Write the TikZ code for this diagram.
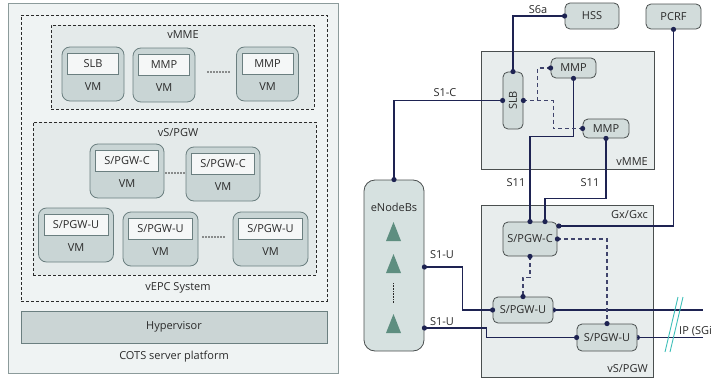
\documentclass[tikz,border=0pt]{standalone}
\usepackage{fontspec}
\setmainfont{Open Sans}
\usetikzlibrary{calc}
\definecolor{panelfill}{HTML}{EFF3F3}
\definecolor{panelline}{HTML}{8C9B9B}
\definecolor{groupfill}{HTML}{E4EAEA}
\definecolor{vmfill}{HTML}{C9D5D5}
\definecolor{vmline}{HTML}{6B7F80}
\definecolor{innerfill}{HTML}{F5F7F7}
\definecolor{hyperfill}{HTML}{CBD5D5}
\definecolor{boxfill}{HTML}{E8EDED}
\definecolor{boxline}{HTML}{4A4F4F}
\definecolor{nodefill}{HTML}{D2DCDB}
\definecolor{enbfill}{HTML}{D6E1E0}
\definecolor{navy}{HTML}{1E2352}
\definecolor{trifill}{HTML}{5E8E80}
\definecolor{slashc}{HTML}{3DBFB8}
\definecolor{txt}{HTML}{2A2A2A}
\newcommand\vmunit[5]{%
  \node[vmbox, minimum width=#5] (#1) at (#2,#3+27) {};
  \node[vminner, minimum width=#5-11] (#1i) at (#2,#3+16.5) {#4};
  \node[lbl] (#1t) at (#2,#3+40) {VM};}
\begin{document}
\begin{tikzpicture}[x=1pt,y=-1pt,
  lbl/.style={text=txt, font=\fontsize{11}{13}\selectfont, inner sep=0pt},
  vmbox/.style={draw=vmline, fill=vmfill, rounded corners=8pt, minimum height=54pt, line width=0.8pt},
  vminner/.style={draw=vmline, fill=innerfill, minimum height=21pt, line width=0.8pt, text=txt, font=\fontsize{11}{13}\selectfont, inner sep=0pt},
  group/.style={draw=txt, dash pattern=on 3pt off 2pt, line width=0.6pt},
  vmdots/.style={line width=1.6pt, line cap=round, dash pattern=on 0pt off 3pt, draw=txt},
  nbox/.style={draw=boxline, fill=nodefill, rounded corners=5pt, line width=0.8pt, text=txt, font=\fontsize{11}{13}\selectfont, inner sep=0pt},
  area/.style={draw=boxline, fill=boxfill, line width=0.9pt, inner sep=0pt},
  link/.style={draw=navy, line width=1.1pt},
  dlink/.style={draw=navy!85!white, line width=1.1pt, dash pattern=on 4pt off 3pt},
  dot/.style={fill=navy}
]
\useasboundingbox (0,0) rectangle (711,380);
% ---------------- left panel ----------------
\node[draw=panelline, fill=panelfill, line width=0.8pt, minimum width=330pt, minimum height=370pt, inner sep=0pt] (cots) at (173,188) {};
\node[group, minimum width=306pt, minimum height=286pt, inner sep=0pt] (vepc) at (174,158) {};
\node[group, fill=groupfill, minimum width=263pt, minimum height=84pt, inner sep=0pt] (gmme) at (182.5,67) {};
\node[group, fill=groupfill, minimum width=283pt, minimum height=153pt, inner sep=0pt] (gspgw) at (174.5,198.5) {};
\node[lbl] (lmme) at (183,35) {vMME};
\node[lbl] (lspgw) at (178,133) {vS/PGW};
\node[lbl] (lvepc) at (178,288) {vEPC System};
\vmunit{vma}{93}{47}{SLB}{62}
\vmunit{vmb}{164}{48}{MMP}{62}
\vmunit{vmc}{267.5}{47}{MMP}{62}
\vmunit{vmd}{127}{144}{S/PGW-C}{74}
\vmunit{vme}{223}{147}{S/PGW-C}{74}
\vmunit{vmf}{76}{208}{S/PGW-U}{75}
\vmunit{vmg}{160.5}{212}{S/PGW-U}{75}
\vmunit{vmh}{270.5}{212}{S/PGW-U}{75}
\draw[vmdots] (208,72) -- (230,72);
\draw[vmdots] (166,173) -- (185,173);
\draw[vmdots] (203,237) -- (226,237);
\node[draw=vmline, fill=hyperfill, line width=0.8pt, minimum width=306pt, minimum height=32pt, inner sep=0pt] (hyp) at (174,327) {};
\node[lbl] (lhyp) at (174,327) {Hypervisor};
\node[lbl] (lcots) at (174,357) {COTS server platform};
% ---------------- right panel ----------------
\node[area, minimum width=173pt, minimum height=118pt] (mmearea) at (567.5,110) {};
\node[area, minimum width=172pt, minimum height=172pt] (spgwarea) at (567,291) {};
\node[lbl, anchor=east] (lvmme) at (648,162) {vMME};
\node[lbl, anchor=east] (lgx) at (648,215) {Gx/Gxc};
\node[lbl, anchor=east] (lvspgw) at (648,369) {vS/PGW};
\node[nbox, minimum width=54pt, minimum height=26pt] (hss) at (592,16) {HSS};
\node[nbox, minimum width=55pt, minimum height=25pt] (pcrf) at (673.5,16.5) {PCRF};
\node[nbox, minimum width=20pt, minimum height=57pt] (slb) at (513,100.5) {};
\node[lbl, rotate=90] (lslb) at (513,100.5) {SLB};
\node[nbox, minimum width=45pt, minimum height=20pt] (mmp1) at (573.5,68) {MMP};
\node[nbox, minimum width=46pt, minimum height=19pt] (mmp2) at (606,128.5) {MMP};
\node[nbox, fill=enbfill, rounded corners=11pt, minimum width=60pt, minimum height=171pt] (enb) at (394,265.5) {};
\node[lbl] (lenb) at (394,207) {eNodeBs};
\node[nbox, minimum width=54pt, minimum height=34pt] (spgwc) at (530,239) {S/PGW-C};
\node[nbox, minimum width=60pt, minimum height=26pt] (u1) at (523,310) {S/PGW-U};
\node[nbox, minimum width=60pt, minimum height=27pt] (u2) at (607,337.5) {S/PGW-U};
% triangles
\fill[trifill] (386,241) -- (393.5,222) -- (401,241) -- cycle;
\fill[trifill] (386,273) -- (393.5,254) -- (401,273) -- cycle;
\fill[trifill] (386,333) -- (393.5,314) -- (401,333) -- cycle;
\draw[txt, line width=0.6pt, dash pattern=on 0.8pt off 0.8pt] (393.5,283) -- (393.5,303);
% connectors
\coordinate (e1) at ($(enb.east)+(0,1.5)$);
\coordinate (e2) at ($(enb.east)+(0,62.5)$);
\coordinate (cgx) at ($(spgwc.east)+(1.5,-13)$);
\coordinate (c11b) at ($(spgwc.north)+(15,0)$);
\coordinate (ipa) at (703,310);
\coordinate (ipb) at (703,337.5);
\draw[link] (hss.west) -| (slb.north);
\draw[link] (slb.west) -| (enb.north);
\draw[link] (mmp1.south) -- ++(0,58) -| (spgwc.north);
\draw[link] (mmp2.south) -- ++(0,60) -| (c11b);
\draw[link] (pcrf.south) |- (cgx);
\draw[link] (e1) -- ++(38,0) |- (u1.west);
\draw[link] (e2) -- ++(62,0) |- (u2.west);
\draw[link] (u1.east) -- (ipa);
\draw[link] (u2.east) -- (ipb);
\draw[dlink] (slb.east) -- ++(30,0) |- (mmp2.west);
\draw[dlink] ($(slb.east)+(14,0)$) |- (mmp1.west);
\draw[dlink] (spgwc.east) -| (u2.north);
\draw[dlink] (spgwc.south) -- ++(0,21) -| (u1.north);
% dots
\foreach \p in {hss.west, slb.north, slb.west, slb.east, enb.north, mmp1.west, mmp1.south, mmp2.west, mmp2.south, spgwc.north, c11b, cgx, spgwc.east, spgwc.south, e1, e2, u1.west, u1.north, u2.west, u2.north, pcrf.south}
  \fill[dot] (\p) circle (2.6pt);
\fill[dot] (u1.east) ++(0,-2.6) arc (-90:90:2.6) -- cycle;
\fill[dot] (u2.east) ++(0,-2.6) arc (-90:90:2.6) -- cycle;
% labels
\node[lbl] (ls6a) at (538,10) {S6a};
\node[lbl] (ls1c) at (445,93) {S1-C};
\node[lbl] (ls11a) at (516,183) {S11};
\node[lbl] (ls11b) at (590,183) {S11};
\node[lbl] (ls1ua) at (442,255) {S1-U};
\node[lbl] (ls1ub) at (442,322) {S1-U};
% IP slash
\draw[slashc, line width=0.9pt] (665,352) -- (678,297);
\draw[slashc, line width=0.9pt] (670,352) -- (683,297);
\node[lbl, anchor=west] (lip) at (679,331) {IP (SGi};
\end{tikzpicture}
\end{document}
